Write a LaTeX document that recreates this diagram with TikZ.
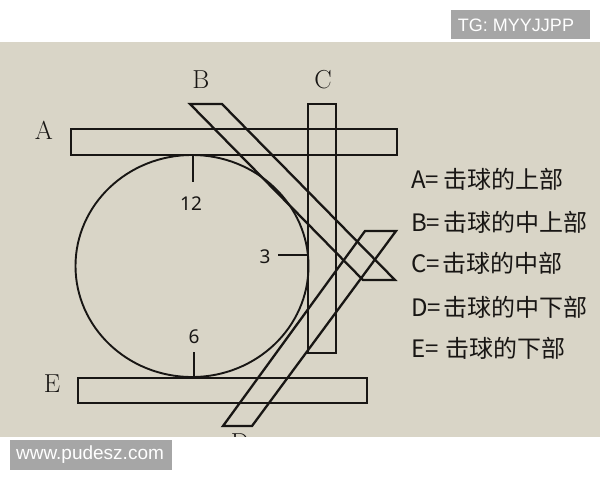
\documentclass[tikz,border=0pt]{standalone}
\usepackage{fontspec}
\newfontfamily\cjk{Noto Sans CJK SC}
\newfontfamily\arialf{Liberation Sans}
\newfontfamily\numf{Noto Sans}
\definecolor{photo}{RGB}{217,213,199}
\definecolor{ink}{RGB}{24,22,20}
\definecolor{wmgray}{RGB}{166,166,166}
\begin{document}
\begin{tikzpicture}[x=1pt,y=-1pt,
  bar/.style={draw=ink,line width=2.3pt,line join=miter},
  thin/.style={draw=ink,line width=1.9pt},
  letter/.style={font=\fontsize{26}{26}\selectfont,text=ink,inner sep=0pt},
  num/.style={font=\numf\fontsize{19}{19}\selectfont,text=ink,inner sep=0pt},
  legend/.style={font=\cjk\fontsize{24}{24}\selectfont,text=ink,anchor=west,inner sep=0pt}]
\useasboundingbox (0,0) rectangle (600,480);
\fill[white] (0,0) rectangle (600,480);
\fill[photo] (0,42) rectangle (600,437);
% clock face
\draw[thin] (192,266) ellipse [x radius=116.5,y radius=111];
\draw[thin] (193,155) -- (193,182);
\draw[thin] (194,352) -- (194,377);
\draw[thin] (278,255) -- (308,255);
\node[num] (n12) at (191,204) {12};
\node[num] (n3) at (265,257) {3};
\node[num] (n6) at (194,337) {6};
% bars
\draw[bar] (71,129) rectangle (397,155);
\draw[bar] (78,378) rectangle (367,403);
\draw[bar] (308,104) rectangle (336,353);
\draw[bar] (190,104) -- (222,104) -- (395,280) -- (363,280) -- cycle;
\draw[bar] (365,231) -- (396,231) -- (252,426) -- (223,426) -- cycle;
% letters
\node[letter] (la) at (44,130) {A};
\node[letter] (lb) at (201,80) {B};
\node[letter] (lc) at (323,80) {C};
\node[letter] (ld) at (240,443) {D};
\node[letter] (le) at (52,384) {E};
% legend
\node[legend] (ta) at (411,179) {A=\hspace{4pt}击球的上部};
\node[legend] (tb) at (411,222) {B=\hspace{3pt}击球的中上部};
\node[legend] (tc) at (411,263) {C=\hspace{3pt}击球的中部};
\node[legend] (td) at (411,307) {D=\hspace{2pt}击球的中下部};
\node[legend] (te) at (411,348) {E=\hspace{7pt}击球的下部};
% bottom white band over the photo
\fill[white] (0,437) rectangle (600,480);
% watermarks
\fill[wmgray] (451,10) rectangle (590,39);
\node[text=white,font=\arialf\fontsize{18}{18}\selectfont,inner sep=0pt] (tg) at (516,25) {TG: MYYJJPP};
\fill[wmgray] (10,440) rectangle (172,470);
\node[text=white,font=\arialf\fontsize{19}{19}\selectfont,inner sep=0pt] (www) at (90,455) {www.pudesz.com};
\end{tikzpicture}
\end{document}
